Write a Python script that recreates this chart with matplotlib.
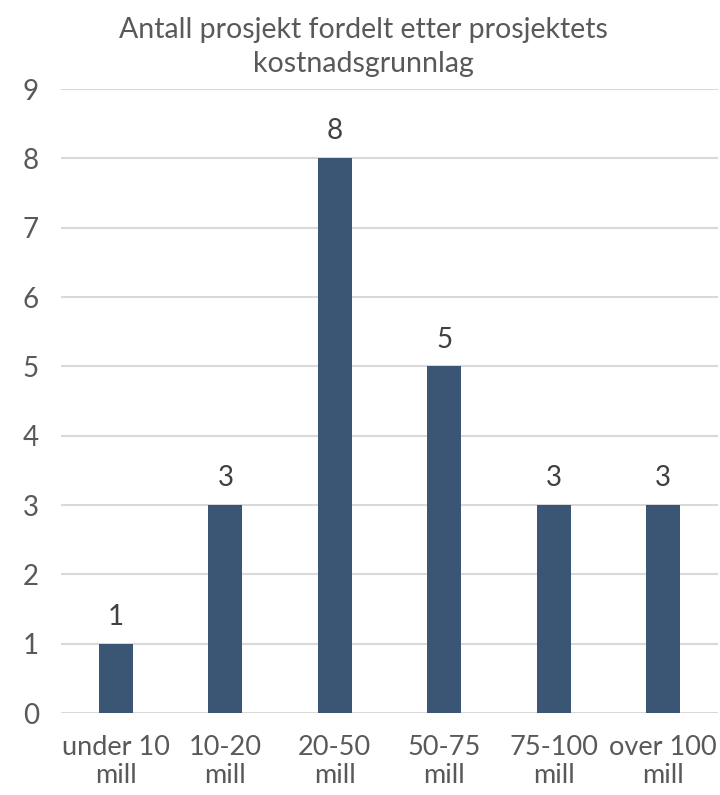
import matplotlib.pyplot as plt

plt.rcParams['font.family'] = ['Lato', 'DejaVu Sans']

categories = ['under 10\nmill', '10-20\nmill', '20-50\nmill', '50-75\nmill', '75-100\nmill', 'over 100\nmill']
counts = [1, 3, 8, 5, 3, 3]
yticks = list(range(0, 10))
title = 'Antall prosjekt fordelt etter prosjektets\nkostnadsgrunnlag'

bar_color = '#3A5674'
text_color = '#595959'
grid_color = '#D9D9D9'

fig = plt.figure(figsize=(7.2, 7.95), dpi=100)
ax = fig.add_axes([0.085, 0.103, 0.912, 0.785])

x = range(len(categories))
bars = ax.bar(x, counts, width=0.31, color=bar_color, zorder=3)

for xi, v in zip(x, counts):
    ax.annotate(str(v), (xi, v), xytext=(0, 10), textcoords='offset points',
                ha='center', va='bottom', fontsize=20, color='#404040')

ax.set_xlim(-0.5, len(categories) - 0.5)
ax.set_ylim(0, 9)
ax.set_yticks(yticks)
ax.set_xticks(list(x))
ax.set_xticklabels(categories, fontsize=19.5, color=text_color, linespacing=1.15)
ax.tick_params(axis='y', labelsize=20, labelcolor=text_color, length=0, pad=16)
ax.tick_params(axis='x', length=0, pad=16)
ax.yaxis.grid(True, color=grid_color, linewidth=1.5, zorder=0)
for s in ax.spines.values():
    s.set_visible(False)

fig.text(0.505, 0.941, title, ha='center', va='center', fontsize=20.5,
         color=text_color, linespacing=1.4)

fig.savefig('out.png', dpi=100)
